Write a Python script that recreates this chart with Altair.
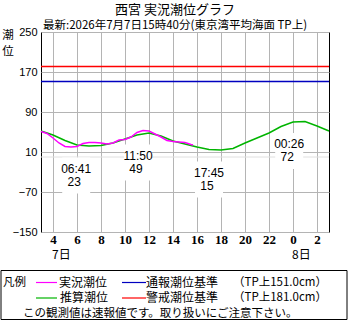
import altair as alt
import pandas as pd

# ---- data ----
pred_hours = list(range(3, 28))
pred_values = [52, 44, 33, 24, 22, 23, 28, 36, 44, 48, 42, 32, 26, 20, 15, 14, 17, 28, 38, 48, 61, 70, 71, 62, 52]

obs_hours = [3.0, 3.5, 4.0, 4.5, 5.0, 5.5, 6.0, 6.5, 7.0, 7.5, 8.0, 8.5, 9.0, 9.5, 10.0,
             10.5, 11.0, 11.5, 12.0, 12.5, 13.0, 13.5, 14.0, 14.5, 15.0, 15.5, 15.67]
obs_values = [51, 47, 38, 28, 21, 20, 21, 27, 29, 29, 28, 26, 28, 34, 35,
              40, 49, 53, 52, 46, 40, 33, 31, 30, 29, 25, 24]

ext_hours = [6 + 41 / 60, 11 + 50 / 60, 17 + 45 / 60, 24 + 26 / 60]
ext_values = [23, 49, 15, 72]
ext_times = ["06:41", "11:50", "17:45", "00:26"]

tick_hours = [4, 6, 8, 10, 12, 14, 16, 18, 20, 22, 24, 26]
y_ticks = [-150, -70, 10, 90, 170, 250]
ref_levels = [181, 151]
ref_colors = ["#ff0000", "#0000c0"]
day_hours = [4, 24]
day_labels = ["7日", "8日"]

title_text = "西宮 実況潮位グラフ"
subtitle_text = "最新:2026年7月7日15時40分(東京湾平均海面 TP上)"

JP = "Noto Sans CJK JP"

pred = pd.DataFrame({"t": pred_hours, "v": pred_values})
obs = pd.DataFrame({"t": obs_hours, "v": obs_values})
ext = pd.DataFrame({"t": ext_hours, "v": ext_values, "time": ext_times,
                    "val": [str(v) for v in ext_values]})
refs = pd.DataFrame({"v": ref_levels, "c": ref_colors})
days = pd.DataFrame({"t": day_hours, "label": day_labels})

xs = alt.Scale(domain=[3, 27], nice=False, zero=False)
ys = alt.Scale(domain=[-150, 250], nice=False, zero=False)

x_axis = alt.Axis(
    values=tick_hours, labelExpr="datum.value % 24", grid=True, gridColor="#b4b4b4",
    ticks=False, domain=False, title=None, labelFont="Liberation Serif",
    labelFontWeight="bold", labelFontSize=13, labelColor="black", labelPadding=1,
    labelFlush=False, labelOverlap=False)
y_axis = alt.Axis(
    values=y_ticks, grid=True, gridColor="#b4b4b4", ticks=False, domain=False,
    title=None, labelFont="Liberation Sans", labelFontSize=11, labelColor="black",
    labelPadding=4, labelFlush=False, labelOverlap=False)

X = alt.X("t:Q", scale=xs, axis=x_axis)
Y = alt.Y("v:Q", scale=ys, axis=y_axis)

green = alt.Chart(pred).mark_line(color="#00b400", strokeWidth=1.5).encode(x=X, y=Y)

zero_line = alt.Chart(pd.DataFrame({"v": [0]})).mark_rule(color="#e0e0e0", strokeWidth=1).encode(y=Y)

ref_lines = alt.Chart(refs).mark_rule(strokeWidth=1.5).encode(
    y=Y, color=alt.Color("c:N", scale=None, legend=None))

bg = alt.Chart(ext).mark_rect(fill="white", width=28, height=36, xOffset=-9, yOffset=30).encode(x=X, y=Y)

magenta = alt.Chart(obs).mark_line(color="#ff00ff", strokeWidth=1.5).encode(x=X, y=Y)

ext_time = alt.Chart(ext).mark_text(font="Liberation Sans", fontSize=12, dx=-9, dy=23,
                                    color="black").encode(x=X, y=Y, text="time:N")
ext_val = alt.Chart(ext).mark_text(font="Liberation Sans", fontSize=12, dx=-11, dy=36,
                                   color="black").encode(x=X, y=Y, text="val:N")

day_text = alt.Chart(days).mark_text(font=JP, fontSize=12, align="left", dx=-1,
                                     color="black").encode(x=X, y=alt.value(222.5), text="label:N")


def txt(s, x, y, size=12, align="left", font=JP):
    return alt.Chart(pd.DataFrame({"s": [s]})).mark_text(
        font=font, fontSize=size, align=align, baseline="middle", color="black"
    ).encode(x=alt.value(x), y=alt.value(y), text="s:N")


def seg(x1, x2, y, color):
    return alt.Chart(pd.DataFrame({"a": [0]})).mark_rule(color=color, strokeWidth=1.2).encode(
        x=alt.value(x1), x2=alt.value(x2), y=alt.value(y))


legend_box = alt.Chart(pd.DataFrame({"a": [0]})).mark_rect(
    fill="white", stroke="black", strokeWidth=1).encode(
    x=alt.value(-40), x2=alt.value(306), y=alt.value(238.5), y2=alt.value(287.5))

r1, r2, r3 = 250.5, 266, 281.5

layers = [
    zero_line, green, ref_lines, bg, magenta, ext_time, ext_val, day_text,
    txt(title_text, 134, -22.5, 13, "center"),
    txt(subtitle_text, 134, -6, 11.5, "center"),
    txt("潮", -33, 4, 11.5, "center"),
    txt("位", -33, 20, 11.5, "center"),
    legend_box,
    txt("凡例", -38, r1, 11.5),
    seg(-5, 16, r1, "#ff00ff"), txt("実況潮位", 18, r1, 12),
    seg(81, 105, r1, "#0000c0"), txt("通報潮位基準", 105, r1, 12),
    txt("（TP上151.0cm）", 192, r1, 11.5),
    seg(-5, 16, r2, "#00b400"), txt("推算潮位", 19, r2, 12),
    seg(81, 105, r2, "#ff0000"), txt("警戒潮位基準", 105, r2, 12),
    txt("（TP上181.0cm）", 192, r2, 11.5),
    txt("この観測値は速報値です。取り扱いにご注意下さい。", -18, r3, 11.5),
]

chart = alt.layer(*layers).properties(
    width=288, height=200,
    autosize=alt.AutoSizeParams(type="none"),
    padding={"left": 41, "top": 32, "right": 21, "bottom": 88},
    background="white",
).configure_view(stroke="black", strokeWidth=1)

chart.save("out.html", embed_options={"renderer": "svg", "actions": False})
